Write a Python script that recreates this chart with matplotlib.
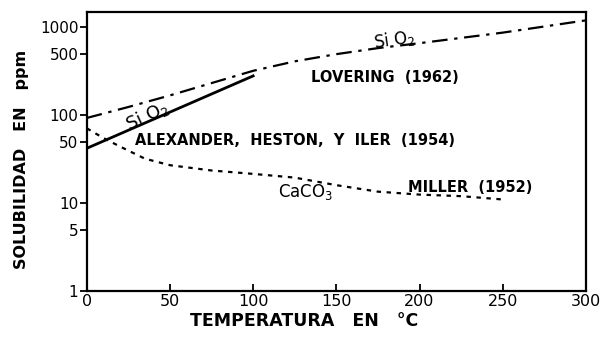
import numpy as np
import matplotlib.pyplot as plt

# valores (ppm contra temperatura en grados C)
t_lovering = [0, 25, 50, 75, 100, 125, 150, 175, 200, 250, 300]
sio2_lovering = [93, 124, 168, 232, 320, 410, 495, 580, 660, 870, 1200]

t_alexander = [0, 100]
sio2_alexander = [42, 280]

t_miller = [0, 10, 20, 35, 50, 75, 100, 125, 150, 175, 200, 225, 250]
caco3_miller = [71, 55, 44, 32, 27, 23.5, 21.5, 19.5, 16, 13.5, 12.5, 12, 11]

xticks = [0, 50, 100, 150, 200, 250, 300]
yticks = [1, 5, 10, 50, 100, 500, 1000]

plt.rcParams['font.family'] = ['DejaVu Sans']

fig = plt.figure(figsize=(6.11, 3.38), dpi=100)
ax = fig.add_axes([0.142, 0.139, 0.817, 0.826])

ax.plot(t_lovering, sio2_lovering, color='black', lw=1.6,
        linestyle=(0, (7, 3, 1.5, 3)))
ax.plot(t_alexander, sio2_alexander, color='black', lw=2.0)
ax.plot(t_miller, caco3_miller, color='black', lw=1.6,
        linestyle=(0, (2, 2.5)))

ax.set_yscale('log')
ax.set_xlim(0, 300)
ax.set_ylim(1, 1500)
ax.set_xticks(xticks)
ax.set_xticklabels([str(v) for v in xticks])
ax.set_yticks(yticks)
ax.set_yticklabels([str(v) for v in yticks])
ax.minorticks_off()
ax.tick_params(axis='x', direction='in', length=5, width=1.3, labelsize=11.5, pad=2)
ax.tick_params(axis='y', direction='out', length=5, width=1.3, labelsize=11, pad=1)
for s in ax.spines.values():
    s.set_linewidth(1.6)

ax.set_xlabel('TEMPERATURA   EN   °C', fontsize=12.5, fontweight='bold')
ax.set_ylabel('SOLUBILIDAD   EN   ppm', fontsize=11.5, fontweight='bold')
ax.xaxis.set_label_coords(0.435, -0.075)
ax.yaxis.set_label_coords(-0.115, 0.47)

ax.text(185, 720, 'Si O$_2$', fontsize=12, rotation=8, ha='center', va='center')
ax.text(135, 270, 'LOVERING  (1962)', fontsize=10.5, fontweight='bold', ha='left', va='center')
ax.text(36, 98, 'Si O$_2$', fontsize=13, rotation=25, ha='center', va='center')
ax.text(29, 52, 'ALEXANDER,  HESTON,  Y  ILER  (1954)', fontsize=10.5, fontweight='bold',
        ha='left', va='center')
ax.text(115, 13.5, 'CaCO$_3$', fontsize=12, ha='left', va='center')
ax.text(193, 15, 'MILLER  (1952)', fontsize=10.5, fontweight='bold', ha='left', va='center')

fig.savefig('out.png', dpi=100)
